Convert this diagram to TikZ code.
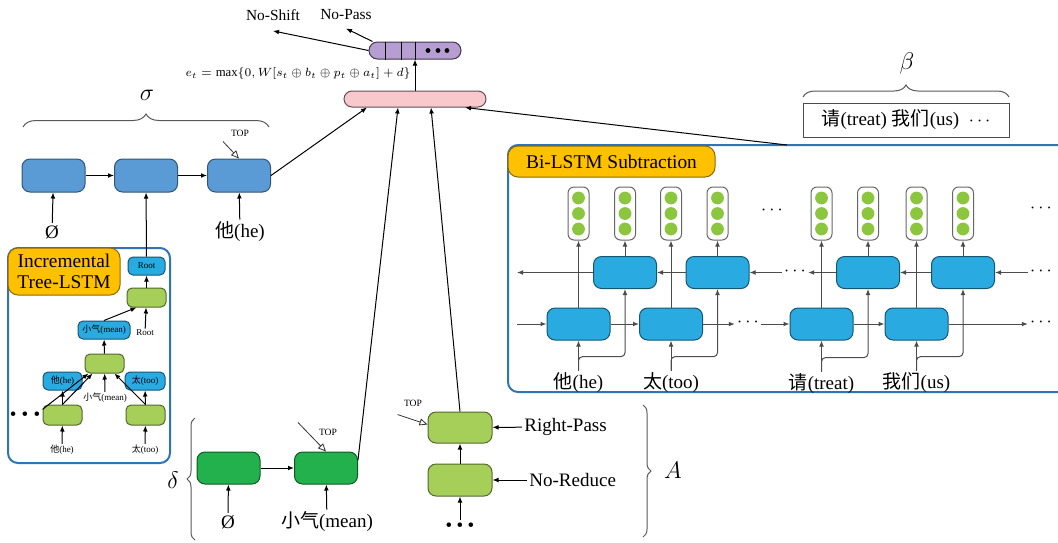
\documentclass[tikz,border=0pt]{standalone}
\usepackage{fontspec}
\setmainfont{Liberation Serif}
\newfontfamily\cjk{Noto Sans CJK SC}
\usetikzlibrary{arrows.meta,decorations.pathreplacing}
\definecolor{SigmaBlue}{HTML}{5B9BD5}
\definecolor{CellBlue}{HTML}{29ABE2}
\definecolor{LeafGreen}{HTML}{A6CF5A}
\definecolor{DeltaGreen}{HTML}{22B14C}
\definecolor{DotGreen}{HTML}{8CC63F}
\definecolor{ScorePink}{HTML}{F8C8CC}
\definecolor{OutPurple}{HTML}{B69DD2}
\definecolor{TagOrange}{HTML}{FFC000}
\definecolor{FrameBlue}{HTML}{2E75B6}
\newcommand{\zh}[1]{{\cjk #1}}

\tikzset{
  ar/.style={-{Latex[length=3pt,width=2.4pt]}, line width=0.5pt},
  grayline/.style={draw=black!70},
  topar/.style={-{Triangle[open,length=4pt,width=3.5pt]}, line width=0.4pt, draw=black!80},
  box/.style={rounded corners=4pt, inner sep=0pt, line width=0.5pt},
  sbox/.style={box, draw=SigmaBlue!55!black, fill=SigmaBlue, minimum width=31.5pt, minimum height=16.5pt},
  cell/.style={box, draw=CellBlue!50!black, fill=CellBlue, minimum width=31.5pt, minimum height=16pt},
  dbox/.style={box, draw=DeltaGreen!50!black, fill=DeltaGreen, minimum width=31.5pt, minimum height=16pt},
  gbox/.style={box, draw=LeafGreen!50!black, fill=LeafGreen, minimum width=32pt, minimum height=16pt},
  tcell/.style={box, rounded corners=2.5pt, draw=CellBlue!50!black, fill=CellBlue, minimum width=19.5pt, minimum height=9pt, font=\fontsize{4.5}{5}\selectfont},
  tleaf/.style={box, rounded corners=2.5pt, draw=LeafGreen!50!black, fill=LeafGreen, minimum width=19.5pt, minimum height=9.5pt},
  vec/.style={box, rounded corners=3pt, draw=black!60, fill=white, minimum width=10.5pt, minimum height=26.5pt},
  tag/.style={box, rounded corners=5pt, draw=TagOrange!55!black, fill=TagOrange, font=\fontsize{9.7}{10.5}\selectfont},
  frame/.style={draw=FrameBlue, line width=1pt, rounded corners=5pt},
  lbl/.style={font=\fontsize{9.5}{11}\selectfont, inner sep=1pt},
  small/.style={font=\fontsize{7.7}{9}\selectfont, inner sep=1pt},
  tiny/.style={font=\fontsize{4.5}{5}\selectfont, inner sep=0.5pt},
  big/.style={font=\fontsize{13}{15}\selectfont, inner sep=1pt},
  dots/.style={font=\fontsize{9.5}{11}\selectfont, inner sep=1pt},
  brc/.style={decorate, decoration={brace, amplitude=#1}, draw=black!65, line width=0.5pt},
}

\begin{document}
\begin{tikzpicture}[x=0.5pt, y=-0.5pt]
  \useasboundingbox (0,0) rectangle (1058,542);

  % frames
  \draw[frame] (8,248) rectangle (170,463);
  \draw[frame] (508,145) rectangle (1070,392);
  \node[tag, minimum width=56pt, minimum height=23.5pt, align=center] (tree tag) at (64,271.5) {Incremental\\Tree-LSTM};
  \node[tag, minimum width=103.5pt, minimum height=15.5pt] (bi tag) at (611.5,161.5) {Bi-LSTM Subtraction};

  % output layer
  \node[box, rounded corners=4pt, draw=ScorePink!40!black, fill=ScorePink, minimum width=71pt, minimum height=8pt] (score) at (415,99) {};
  \node[box, rounded corners=4.2pt, draw=OutPurple!35!black, fill=OutPurple, minimum width=46pt, minimum height=8.5pt] (out) at (415,50.5) {};
  \foreach \s in {-15,-7,0}
    \draw[line width=0.4pt] ([xshift=\s pt]out.north) -- ([xshift=\s pt]out.south);
  \foreach \x in {428,438,447}
    \fill (\x,50.5) circle (1.2pt);
  \node[small] (nshift) at (273,15) {No-Shift};
  \node[small] (npass) at (346,15) {No-Pass};
  \draw[ar] (out.west) -- ([yshift=-4pt]nshift.south);
  \draw[ar] ([xshift=2pt]out.north west) -- ([yshift=-3pt]npass.south);
  \draw[ar] (score.north) -- (out.south);
  \node[anchor=east, font=\fontsize{7.5}{9}\selectfont, inner sep=1pt] (eq) at (413,74)
    {\scalebox{0.85}{$e_t=\max\{0,W[s_t\oplus b_t\oplus p_t\oplus a_t]+d\}$}};

  % sigma (stack)
  \node[sbox] (s1) at (53.5,175.5) {};
  \node[sbox] (s2) at (146,175.5) {};
  \node[sbox] (s3) at (239,175.5) {};
  \draw[ar] (s1) -- (s2);
  \draw[ar] (s2) -- (s3);
  \draw[brc=6.5pt] (23,127) -- (269,127);
  \node[big] (sigma) at (147,95) {$\sigma$};
  \node[tiny, font=\fontsize{4.8}{5}\selectfont] (s top) at (240,133) {TOP};
  \draw[topar] ([shift={(-16,-17)}]s3.north) -- (s3.north);
  \node[lbl] (s empty) at (52,232) {Ø};
  \node[lbl] (s he) at (240,232) {\zh{他}(he)};
  \draw[ar] (s empty) -- (s1);
  \draw[ar] (s he) -- (s3);

  % incremental tree-LSTM
  \node[tcell, minimum width=18.5pt] (root) at (146.5,266) {Root};
  \node[tleaf] (tg1) at (146.5,297.5) {};
  \node[tiny] (root lbl) at (145,333) {Root};
  \node[tcell, minimum width=26pt] (tmean) at (104,330) {\zh{小气}(mean)};
  \node[tleaf] (tg2) at (104.5,363.5) {};
  \node[tiny] (mean lbl) at (105,398) {\zh{小气}(mean)};
  \node[tcell] (the) at (62.5,381) {\zh{他}(he)};
  \node[tcell, minimum width=20pt] (ttoo) at (145,381) {\zh{太}(too)};
  \node[tleaf, minimum height=10pt] (tg3) at (62.5,415) {};
  \node[tleaf, minimum height=10pt] (tg4) at (145.5,415) {};
  \node[dots] (tdots) at (25,416) {\textbullet\hspace{2.6pt}\textbullet\hspace{2.6pt}\textbullet};
  \node[tiny] (he lbl) at (62,450) {\zh{他}(he)};
  \node[tiny] (too lbl) at (145,450) {\zh{太}(too)};
  \draw[ar] (tg1) -- (root);
  \draw[ar] (root) -- (s2);
  \draw[ar] (root lbl) -- (tg1);
  \draw[ar] (tmean.north) -- ([xshift=-5pt]tg1.south);
  \draw[ar] (tg2) -- (tmean);
  \draw[ar] (mean lbl) -- (tg2);
  \draw[ar] (tdots.north east) -- ([xshift=-8pt]tg2.south);
  \draw[ar] (tg3.north) -- ([xshift=-6pt]tg2.south);
  \draw[ar] (tg4.north) -- ([xshift=5pt]tg2.south);
  \draw[ar] (tg3) -- (the);
  \draw[ar] (tg4) -- (ttoo);
  \draw[ar] (he lbl) -- (tg3);
  \draw[ar] (too lbl) -- (tg4);

  % delta
  \node[dbox] (d1) at (228.5,468) {};
  \node[dbox] (d2) at (326,468) {};
  \draw[ar] (d1) -- (d2);
  \draw[brc=4pt] (195,540) -- (195,418);
  \node[big] (delta) at (173,480) {$\delta$};
  \node[tiny, font=\fontsize{4.8}{5}\selectfont] (d top) at (328,432) {TOP};
  \draw[topar] ([shift={(-28,-29)}]d2.north) -- (d2.north);
  \node[lbl] (d empty) at (228,522) {Ø};
  \node[lbl] (d mean) at (327,522) {\zh{小气}(mean)};
  \draw[ar] (d empty) -- (d1);
  \draw[ar] (d mean) -- (d2);

  % actions
  \node[gbox, minimum height=15.5pt] (a1) at (460,427.5) {};
  \node[gbox] (a2) at (460,480) {};
  \draw[ar] (a2) -- (a1);
  \node[dots] (a dots) at (460,527) {\textbullet\hspace{2.2pt}\textbullet\hspace{2.2pt}\textbullet};
  \draw[ar] (a dots) -- (a2);
  \node[lbl, anchor=west] (rpass) at (522,427) {Right-Pass};
  \node[lbl, anchor=west] (nreduce) at (527,480) {No-Reduce};
  \draw[ar] (rpass) -- (a1);
  \draw[ar] (nreduce) -- (a2);
  \node[tiny, font=\fontsize{4.8}{5}\selectfont] (a top) at (413,403) {TOP};
  \draw[topar] ([shift={(-30,-13)}]a1.west) -- ([yshift=1.5pt]a1.west);
  \draw[brc=4pt] (643,405) -- (643,537);
  \node[big] (actions) at (673,470) {$A$};

  % beta (buffer)
  \node[draw=black!70, line width=0.5pt, minimum width=103pt, minimum height=17pt, lbl] (buffer) at (906,120) {\zh{请}(treat) \zh{我们}(us)\ \ $\cdots$};
  \draw[brc=6pt] (803,97) -- (1009,97);
  \node[big] (beta) at (907,63) {$\beta$};

  % bi-LSTM subtraction
  \foreach \i/\x in {1/578.5,2/625,3/671,4/717.5,5/821.5,6/868,7/916.5,8/963}{
    \node[vec] (v\i) at (\x,213.5) {};
    \foreach \y in {198,213.5,229}
      \fill[DotGreen] (\x,\y) circle (3.2pt);
  }
  \node[cell] (f1) at (578.5,324) {};
  \node[cell] (f2) at (671,324) {};
  \node[cell] (f3) at (821.5,324) {};
  \node[cell] (f4) at (916.5,324) {};
  \node[cell] (b1) at (625,272.5) {};
  \node[cell] (b2) at (717.5,272.5) {};
  \node[cell] (b3) at (868,272.5) {};
  \node[cell] (b4) at (963,272.5) {};
  \node[lbl] (top dots1) at (772,210) {$\cdots$};
  \node[lbl] (top dots2) at (1041,208) {$\cdots$};
  \node[lbl] (b dots1) at (795,271) {$\cdots$};
  \node[lbl] (b dots2) at (1041,271) {$\cdots$};
  \node[lbl] (f dots1) at (748,322) {$\cdots$};
  \node[lbl] (f dots2) at (1041,322) {$\cdots$};
  \coordinate (b start) at (517,272.5);
  \coordinate (f start) at (517,324);
  \foreach \c/\v in {f1/v1,b1/v2,f2/v3,b2/v4,f3/v5,b3/v6,f4/v7,b4/v8}
    \draw[ar, grayline] (\c.north) -- (\v.south);
  % forward
  \draw[ar, grayline] (f start) -- (f1.west);
  \draw[ar, grayline] (f1.east) -- (f2.west);
  \draw[ar, grayline] (f2.east) -- (f dots1.west |- f2.east);
  \draw[ar, grayline] (f dots1.east |- f3.west) -- (f3.west);
  \draw[ar, grayline] (f3.east) -- (f4.west);
  \draw[ar, grayline] (f4.east) -- (f dots2.west |- f4.east);
  % backward
  \draw[ar, grayline] (b dots2.west |- b4.east) -- (b4.east);
  \draw[ar, grayline] (b4.west) -- (b3.east);
  \draw[ar, grayline] (b3.west) -- (b dots1.east |- b3.west);
  \draw[ar, grayline] (b dots1.west |- b2.east) -- (b2.east);
  \draw[ar, grayline] (b2.west) -- (b1.east);
  \draw[ar, grayline] (b1.west) -- (b start);
  % words
  \node[lbl] (w1) at (578.5,383) {\zh{他}(he)};
  \node[lbl] (w2) at (671,383) {\zh{太}(too)};
  \node[lbl] (w3) at (821.5,384) {\zh{请}(treat)};
  \node[lbl] (w4) at (916.5,383) {\zh{我们}(us)};
  \foreach \w/\f/\b in {w1/f1/b1,w2/f2/b2,w3/f3/b3,w4/f4/b4}{
    \draw[ar, grayline] (\w.north) -- (\f.south);
    \draw[ar, grayline, rounded corners=2pt] (\w.north) -- ++(0,-14) -| (\b.south);
  }

  % into the scorer
  \coordinate (bi top) at (787,145);
  \draw[ar] (s3.east) -- ([xshift=-24pt]score.south);
  \draw[ar] ([yshift=4pt]d2.east) -- ([xshift=-8.5pt]score.south);
  \draw[ar] (a1.north) -- ([xshift=8pt]score.south);
  \draw[ar] (bi top) -- ([xshift=25pt]score.south);
\end{tikzpicture}
\end{document}
